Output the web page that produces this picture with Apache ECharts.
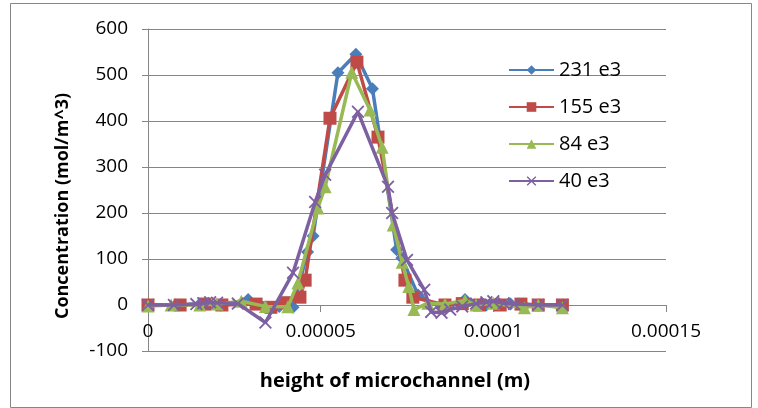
<!DOCTYPE html>
<html>
<head>
<meta charset="utf-8">
<script src="https://cdn.jsdelivr.net/npm/echarts@6/dist/echarts.min.js"></script>
<style>html,body{margin:0;padding:0;background:#fff}#c{width:758px;height:408px}</style>
</head>
<body>
<div id="c"></div>
<script>
// x values in units of 1e-5 m, y values in mol/m^3
const seriesNames = ['231 e3', '155 e3', '84 e3', '40 e3'];
const blueX = [0, 0.8, 1.5, 2.1, 2.9, 3.8, 4.2, 4.62, 4.78, 5.5, 6.02, 6.5, 7.2, 7.35, 7.82, 8.5, 9.18, 9.8, 10.5, 11.3, 12];
const blueY = [0, 0, 2, 0, 12, -3, -5, 115, 150, 505, 545, 470, 120, 102, 22, -6, 12, 0, 2, 0, 0];
const redX = [0, 0.93, 1.65, 2.14, 3.13, 3.56, 3.97, 4.4, 4.55, 5.27, 6.05, 6.66, 7.44, 7.67, 8.6, 9.1, 9.6, 10.2, 10.8, 11.3, 12];
const redY = [0, 0, 2, 0, 2, -5, 5, 17, 54, 406, 528, 365, 54, 17, 0, 3, 0, 0, 2, 0, 0];
const greenX = [0, 0.67, 1.5, 2.0, 2.7, 3.4, 4.05, 4.34, 4.92, 5.13, 5.9, 6.43, 6.78, 7.1, 7.36, 7.55, 7.7, 8.1, 8.6, 9.18, 9.5, 10.0, 10.9, 11.3, 12];
const greenY = [-2, 0, 0, 2, 8, -3, -4, 48, 211, 257, 506, 424, 343, 174, 93, 40, -10, 4, 2, 10, 0, 4, -6, 0, -6];
const purpleX = [0, 0.75, 1.4, 1.6, 1.8, 2.0, 2.6, 3.4, 4.2, 4.84, 5.13, 6.08, 6.95, 7.07, 7.5, 8.0, 8.2, 8.5, 8.75, 9.1, 9.5, 9.8, 10.0, 10.3, 10.6, 11.3, 12];
const purpleY = [0, 0, 2, 4, 6, 5, 3, -38, 70, 224, 283, 420, 257, 200, 98, 33, -15, -17, -10, -3, 3, 6, 8, 4, 2, 0, 0];
const xTicks = [0, 0.00005, 0.0001, 0.00015];
const yTicks = [-100, 0, 100, 200, 300, 400, 500, 600];

const pair = (xs, ys) => xs.map((x, i) => [x * 1e-5, ys[i]]);
const colors = ['#4A7EBB', '#BE4B48', '#98B954', '#7D60A0'];
const symbols = ['diamond', 'rect', 'triangle',
  'path://M0,2L2,0L10,8L18,0L20,2L12,10L20,18L18,20L10,12L2,20L0,18L8,10Z'];
const sizes = [13, 13, 13, 13];
const datasets = [pair(blueX, blueY), pair(redX, redY), pair(greenX, greenY), pair(purpleX, purpleY)];
const font = '"Open Sans", "Liberation Sans", sans-serif';

const gridTop = 29, gridBottom = 57, H = 408;
// place the x axis on the y = 0 line (one 100-unit step above the bottom of the plot)
const plotH = H - gridTop - gridBottom;
const zeroOffset = -plotH * (0 - yTicks[0]) / (yTicks[yTicks.length - 1] - yTicks[0]);

const chart = echarts.init(document.getElementById('c'), null, {renderer: 'canvas'});
chart.setOption({
  animation: false,
  backgroundColor: '#fff',
  graphic: [{type: 'rect', shape: {x: 10.5, y: 3.5, width: 741, height: 404}, style: {fill: 'none', stroke: '#868686', lineWidth: 1}, z: -1}],
  grid: {left: 148, right: 92, top: gridTop, bottom: gridBottom, containLabel: false, outerBoundsMode: 'none'},
  legend: {
    orient: 'vertical', left: 503, top: 55, itemWidth: 45, itemHeight: 12, itemGap: 17,
    data: seriesNames,
    textStyle: {fontFamily: font, fontSize: 20, color: '#000'}
  },
  xAxis: {
    type: 'value', min: xTicks[0], max: xTicks[xTicks.length - 1], interval: 0.00005,
    offset: zeroOffset,
    axisLine: {onZero: false, lineStyle: {color: '#868686', width: 1}},
    axisTick: {show: true, inside: false, length: 7, lineStyle: {color: '#868686'}},
    splitLine: {show: false},
    axisLabel: {fontFamily: font, fontSize: 19, color: '#000', margin: 17,
      formatter: v => (v === 0 ? '0' : String(parseFloat(v.toPrecision(6))))},
    name: 'height of microchannel (m)', nameLocation: 'middle', nameGap: 66,
    nameTextStyle: {fontFamily: font, fontSize: 20, fontWeight: 'bold', color: '#000', padding: [0, 24, 0, 0]}
  },
  yAxis: {
    type: 'value', min: yTicks[0], max: yTicks[yTicks.length - 1], interval: 100,
    axisLine: {show: true, onZero: false, lineStyle: {color: '#868686', width: 1}},
    axisTick: {show: true, length: 6, lineStyle: {color: '#868686'}},
    splitLine: {show: true, lineStyle: {color: '#868686', width: 1}},
    axisLabel: {fontFamily: font, fontSize: 19, color: '#000', margin: 20},
    name: 'Concentration (mol/m^3)', nameLocation: 'middle', nameGap: 76,
    nameTextStyle: {fontFamily: font, fontSize: 18, fontWeight: 'bold', color: '#000', padding: [0, 32, 0, 0]}
  },
  series: datasets.map((d, i) => ({
    name: seriesNames[i], type: 'line', data: d,
    symbol: symbols[i], symbolSize: sizes[i], showSymbol: true,
    lineStyle: {color: colors[i], width: 3.5},
    itemStyle: {color: colors[i], borderWidth: 0},
    z: 2 + i
  }))
});
</script>
</body>
</html>
